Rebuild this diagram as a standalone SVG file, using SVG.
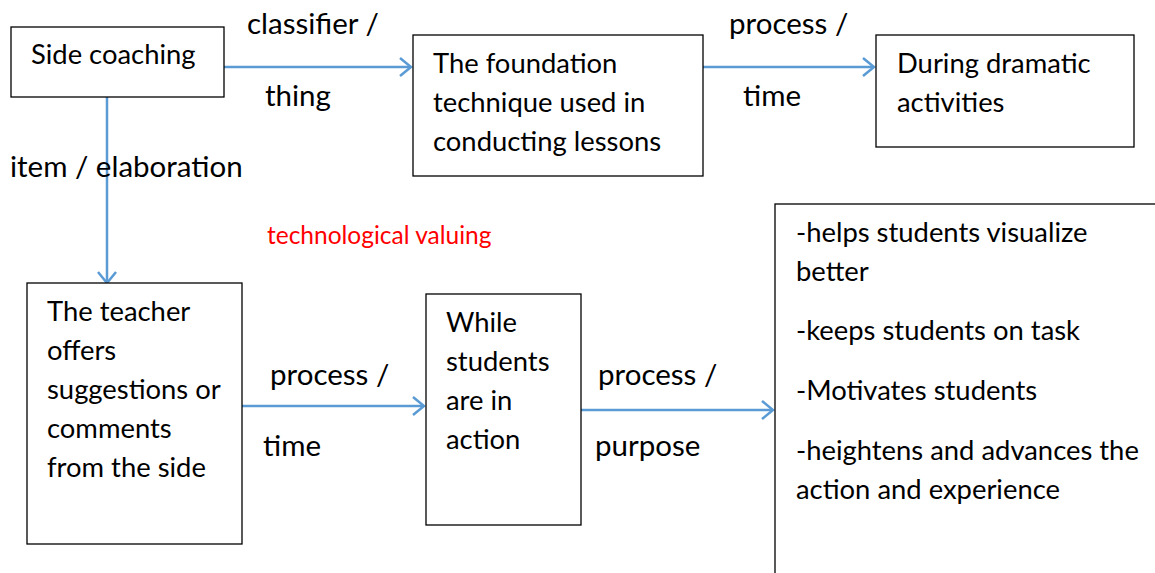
<svg xmlns="http://www.w3.org/2000/svg" width="1155" height="573" viewBox="0 0 1155 573">
<defs>
<marker id="ah" markerWidth="16" markerHeight="20" refX="13" refY="10" orient="auto" markerUnits="userSpaceOnUse">
<path d="M2,1 L13,10 L2,19" fill="none" stroke="#5b9bd5" stroke-width="2.5"/>
</marker>
</defs>
<style>
.box{fill:#fff;stroke:#000;stroke-width:1.3}
.t{font-family:Lato,"Liberation Sans",sans-serif;font-size:27.4px;fill:#000}
.l{font-family:Lato,"Liberation Sans",sans-serif;font-size:29.5px;fill:#000}
.r{font-family:Lato,"Liberation Sans",sans-serif;font-size:24.5px;fill:#ff0000}
.c{stroke:#5b9bd5;stroke-width:2.5;fill:none;marker-end:url(#ah)}
</style>
<rect width="1155" height="573" fill="#fff"/>
<g id="connectors">
<line class="c" x1="224" y1="67" x2="411" y2="67"/>
<line class="c" x1="703" y1="67" x2="874" y2="67"/>
<line class="c" x1="107" y1="97" x2="107" y2="283"/>
<line class="c" x1="242" y1="406" x2="424" y2="406"/>
<line class="c" x1="581" y1="410" x2="773" y2="410"/>
</g>
<g id="labels">
<text class="l" x="247" y="34">classifier /</text>
<text class="l" x="265" y="106">thing</text>
<text class="l" x="729" y="34">process /</text>
<text class="l" x="743" y="106">time</text>
<text class="l" x="10" y="177">item / elaboration</text>
<text class="r" x="267" y="244">technological valuing</text>
<text class="l" x="270" y="385">process /</text>
<text class="l" x="263" y="456">time</text>
<text class="l" x="598" y="385">process /</text>
<text class="l" x="595" y="456">purpose</text>
</g>
<g id="n1">
<rect class="box" x="11" y="27" width="213" height="70"/>
<text class="t" x="31" y="64">Side coaching</text>
</g>
<g id="n2">
<rect class="box" x="413" y="35" width="290" height="141"/>
<text class="t" x="433" y="73">The foundation</text>
<text class="t" x="433" y="112">technique used in</text>
<text class="t" x="433" y="151">conducting lessons</text>
</g>
<g id="n3">
<rect class="box" x="876" y="35" width="258" height="112"/>
<text class="t" x="897" y="73">During dramatic</text>
<text class="t" x="897" y="112">activities</text>
</g>
<g id="n4">
<rect class="box" x="27" y="283" width="215" height="261"/>
<text class="t" x="47" y="321">The teacher</text>
<text class="t" x="47" y="360">offers</text>
<text class="t" x="47" y="399">suggestions or</text>
<text class="t" x="47" y="438">comments</text>
<text class="t" x="47" y="477">from the side</text>
</g>
<g id="n5">
<rect class="box" x="426" y="294" width="155" height="231"/>
<text class="t" x="446" y="332">While</text>
<text class="t" x="446" y="371">students</text>
<text class="t" x="446" y="410">are in</text>
<text class="t" x="446" y="449">action</text>
</g>
<g id="n6">
<rect class="box" x="775" y="204" width="400" height="400"/>
<text class="t" x="796" y="242">-helps students visualize</text>
<text class="t" x="796" y="281">better</text>
<text class="t" x="796" y="340">-keeps students on task</text>
<text class="t" x="796" y="400">-Motivates students</text>
<text class="t" x="796" y="460">-heightens and advances the</text>
<text class="t" x="796" y="499">action and experience</text>
</g>
</svg>
